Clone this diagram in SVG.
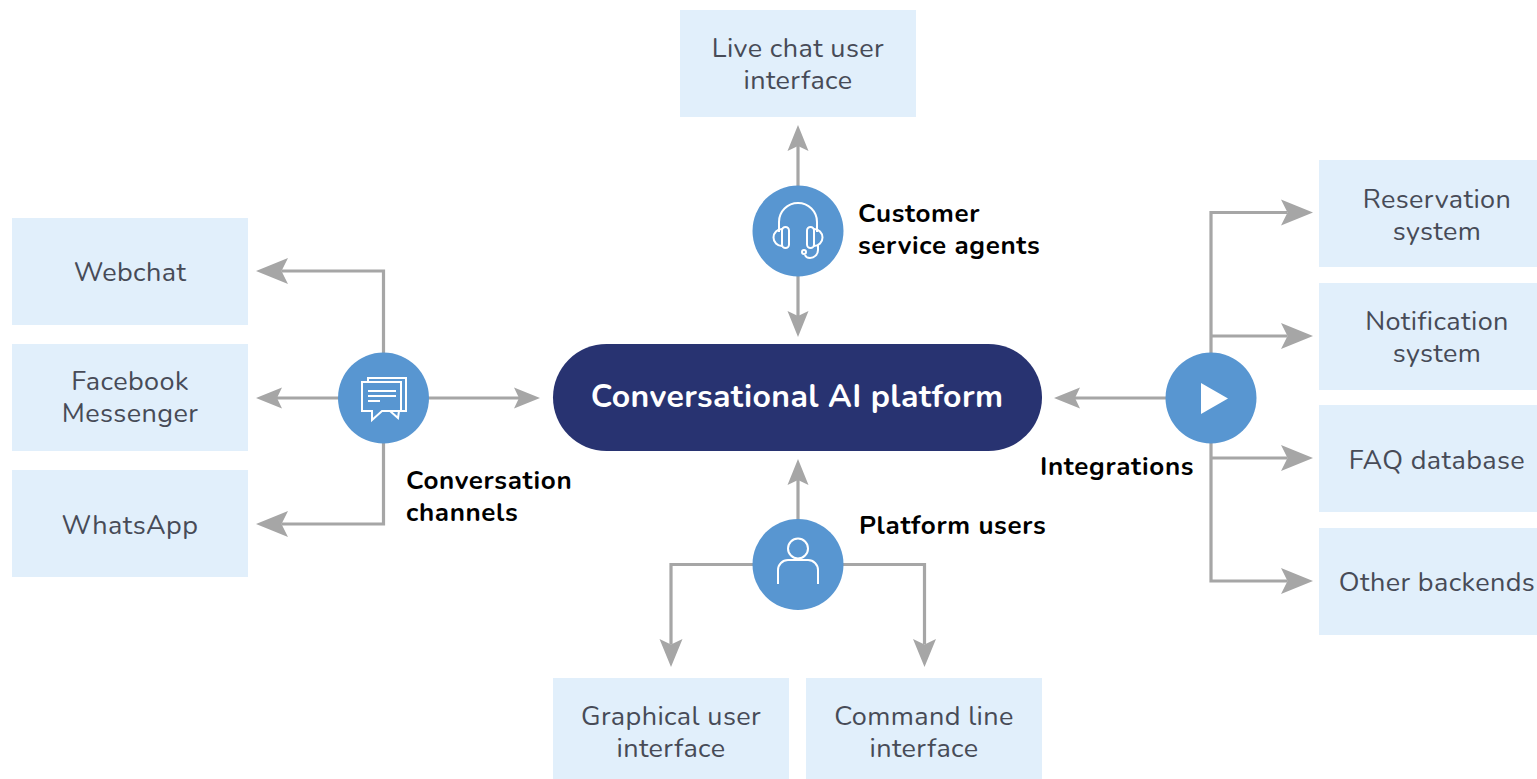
<svg xmlns="http://www.w3.org/2000/svg" width="1537" height="779" viewBox="0 0 1537 779">
<style>
text{font-family:"Nunito","Noto Sans","Liberation Sans",sans-serif}
.box{fill:#e1effb}
.bt{font-size:27px;letter-spacing:.4px;fill:#474b57;text-anchor:middle}
.lb{font-size:26px;letter-spacing:.65px;font-weight:700;fill:#000}
.c{fill:#5896d1}
.i{fill:none;stroke:#fff;stroke-width:2}
.l{fill:none;stroke:#a6a6a6;stroke-width:3.2}
.h{fill:#a6a6a6}
</style>
<defs>
<marker id="a" markerUnits="userSpaceOnUse" orient="auto" markerWidth="40" markerHeight="32" refX="6.500" refY="16" viewBox="0 0 40 32"><path class="h" d="M32 16L0 3L6.500 16L0 29Z"/></marker>
<marker id="s" markerUnits="userSpaceOnUse" orient="auto" markerWidth="40" markerHeight="32" refX="5" refY="16" viewBox="0 0 40 32"><path class="h" d="M26 16L0 5.500L5 16L0 26.500Z"/></marker>
<marker id="m" markerUnits="userSpaceOnUse" orient="auto" markerWidth="40" markerHeight="32" refX="5.500" refY="16" viewBox="0 0 40 32"><path class="h" d="M28 16L0 4.500L5.500 16L0 27.500Z"/></marker>
</defs>
<rect width="1537" height="779" fill="#fff"/>
<g id="connectors">
<path class="l" d="M383.500 353V271H281.500" marker-end="url(#a)"/>
<path class="l" d="M339 398H277" marker-end="url(#s)"/>
<path class="l" d="M383.500 442V524H281.500" marker-end="url(#a)"/>
<path class="l" d="M428 398H519" marker-end="url(#s)"/>
<path class="l" d="M798 186V146" marker-end="url(#s)"/>
<path class="l" d="M798 276V316" marker-end="url(#s)"/>
<path class="l" d="M798 520V480" marker-end="url(#s)"/>
<path class="l" d="M753 564.500H671V644.500" marker-end="url(#m)"/>
<path class="l" d="M843 564.500H924.500V644.500" marker-end="url(#m)"/>
<path class="l" d="M1166 398H1075" marker-end="url(#s)"/>
<path class="l" d="M1211 353V212.500H1287.500" marker-end="url(#a)"/>
<path class="l" d="M1211 336H1287.500" marker-end="url(#a)"/>
<path class="l" d="M1211 442V581H1287.500" marker-end="url(#a)"/>
<path class="l" d="M1211 458H1287.500" marker-end="url(#a)"/>
</g>
<g id="platform"><rect x="553" y="344" width="489" height="107" rx="53.500" fill="#283371"/><text x="797" y="407" text-anchor="middle" font-size="32" letter-spacing=".4" font-weight="700" fill="#fff">Conversational AI platform</text></g>
<g id="live-chat"><rect class="box" x="680" y="10" width="236" height="107"/><text class="bt" x="798" y="57">Live chat user</text><text class="bt" x="798" y="89">interface</text></g>
<g id="webchat"><rect class="box" x="12" y="218" width="236" height="107"/><text class="bt" x="130" y="281">Webchat</text></g>
<g id="facebook"><rect class="box" x="12" y="344" width="236" height="107"/><text class="bt" x="130" y="390">Facebook</text><text class="bt" x="130" y="422">Messenger</text></g>
<g id="whatsapp"><rect class="box" x="12" y="470" width="236" height="107"/><text class="bt" x="130" y="534">WhatsApp</text></g>
<g id="reservation"><rect class="box" x="1319" y="160" width="218" height="107"/><text class="bt" x="1437" y="208">Reservation</text><text class="bt" x="1437" y="240">system</text></g>
<g id="notification"><rect class="box" x="1319" y="283" width="218" height="107"/><text class="bt" x="1437" y="330">Notification</text><text class="bt" x="1437" y="362">system</text></g>
<g id="faq"><rect class="box" x="1319" y="405" width="218" height="107"/><text class="bt" x="1437" y="469">FAQ database</text></g>
<g id="other"><rect class="box" x="1319" y="528" width="218" height="107"/><text class="bt" x="1437" y="591">Other backends</text></g>
<g id="gui"><rect class="box" x="553" y="678" width="236" height="101"/><text class="bt" x="671" y="725">Graphical user</text><text class="bt" x="671" y="757">interface</text></g>
<g id="cli"><rect class="box" x="806" y="678" width="236" height="101"/><text class="bt" x="924" y="725">Command line</text><text class="bt" x="924" y="757">interface</text></g>
<g id="channels"><circle class="c" cx="383.500" cy="398" r="45.500"/><path class="i" d="M368 382V378H406V411H399"/><path class="i" d="M362 382H401V411H382L372 420V411H362Z"/><path class="i" d="M368 391H396M368 396H396M368 401H380M390 411L398 418L399 411"/><text class="lb" x="406" y="489">Conversation</text><text class="lb" x="406" y="521">channels</text></g>
<g id="agents"><circle class="c" cx="798" cy="231" r="45.500"/><path class="i" d="M779 232V222a19 19 0 0 1 38 0V232"/><rect class="i" x="782" y="227" width="7" height="21" rx="3.500"/><rect class="i" x="807" y="227" width="7" height="21" rx="3.500"/><path class="i" d="M782 229a8.500 8.500 0 0 0 0 17M814 229a8.500 8.500 0 0 1 0 17M818 245V250a8 8 0 0 1 -8 8Q806 258 805 255"/><circle class="i" cx="804" cy="252" r="2"/><text class="lb" x="858" y="222">Customer</text><text class="lb" x="858" y="254">service agents</text></g>
<g id="users"><circle class="c" cx="798" cy="564.500" r="45.500"/><circle class="i" cx="798" cy="548.500" r="10"/><path class="i" d="M778 584V570a10 10 0 0 1 10 -10H808a10 10 0 0 1 10 10V584"/><text class="lb" x="859" y="534">Platform users</text></g>
<g id="integrations"><circle class="c" cx="1211" cy="398" r="45.500"/><path d="M1201 383L1228 398.500L1201 414Z" fill="#fff"/><text class="lb" x="1040" y="475">Integrations</text></g>
</svg>
